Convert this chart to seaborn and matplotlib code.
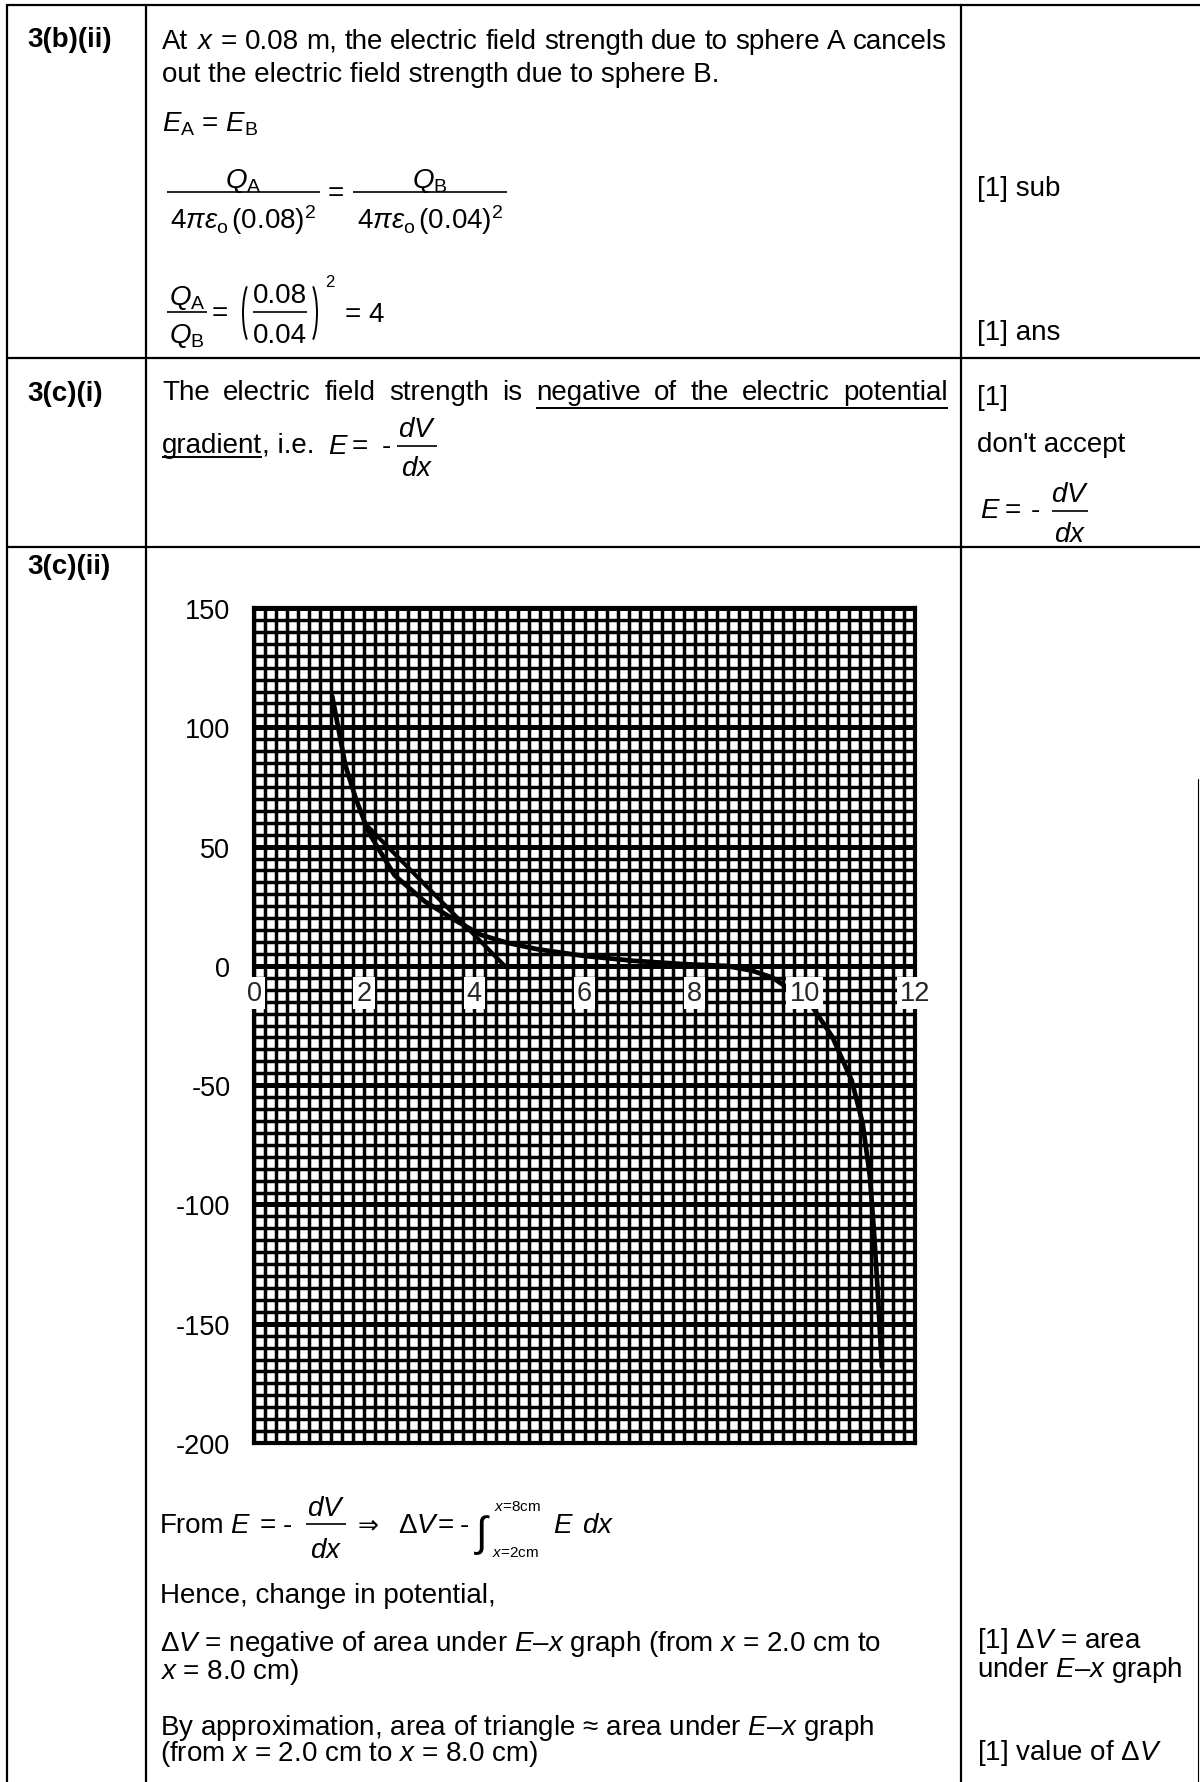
import numpy as np
import pandas as pd
import matplotlib
matplotlib.use("Agg")
import matplotlib.pyplot as plt
from matplotlib.ticker import MultipleLocator, FixedLocator
from matplotlib.patches import Arc
from matplotlib.font_manager import FontProperties
import matplotlib.transforms as mtransforms
import seaborn as sns

# ---------------- data ----------------
curve_x = [1.42, 1.66, 1.85, 2.08, 2.55, 3.10, 3.66, 4.12, 4.59, 5.14, 5.98, 6.90,
           7.83, 8.57, 9.04, 9.41, 9.70, 10.15, 10.50, 10.85, 11.05, 11.18, 11.26,
           11.32, 11.36, 11.40]
curve_y = [113, 84, 70, 56, 38, 27, 19, 13, 9.7, 7.0, 4.2, 2.1,
           0.7, 0.0, -2.0, -4.9, -9.4, -17.6, -29.8, -48, -66, -88, -113,
           -135, -152, -168]
hyp_x = [2.0, 4.55]          # triangle hypotenuse
hyp_y = [60, 0]
side_x = [2.0, 2.0]          # triangle vertical side
side_y = [0, 60]
x_ticks = [0, 2, 4, 6, 8, 10, 12]
y_ticks = [150, 100, 50, 0, -50, -100, -150, -200]
x_range = (0, 12)
y_range = (-200, 150)

# ---------------- style ----------------
sns.set_style("white")
plt.rcParams['font.family'] = ['Liberation Sans', 'DejaVu Sans']
plt.rcParams['mathtext.fontset'] = 'custom'
plt.rcParams['mathtext.rm'] = 'Liberation Sans'
plt.rcParams['mathtext.it'] = 'Liberation Sans:italic'
plt.rcParams['mathtext.bf'] = 'Liberation Sans:bold'
plt.rcParams['axes.unicode_minus'] = False

W, H = 1200, 1783
FS = 20
TFS = 19.5
fig = plt.figure(figsize=(W / 100, H / 100), dpi=100, facecolor='white')
bg = fig.add_axes([0, 0, 1, 1])
bg.set_xlim(0, W)
bg.set_ylim(H, 0)
bg.axis('off')
renderer = fig.canvas.get_renderer()


def txt(x, y, s, size=FS, ha='left', va='baseline', **kw):
    return bg.text(x, y, s, fontsize=size, ha=ha, va=va, color='black', **kw)


def hline(x0, x1, y, lw=1.2):
    bg.plot([x0, x1], [y, y], color='black', lw=lw, solid_capstyle='butt')


def width_of(a):
    return a.get_window_extent(renderer).width


def justify(words, x0, x1, y, size=FS):
    arts = [txt(x0, y, w, size) for w in words]
    ws = [width_of(a) for a in arts]
    gap = (x1 - x0 - sum(ws)) / (len(words) - 1)
    x = x0
    pos = []
    for a, w in zip(arts, ws):
        a.set_x(x)
        pos.append((x, x + w))
        x += w + gap
    return pos


def para(x, base1, lines, spacing, size=FS):
    """Two-line text: first baseline at base1, baselines `spacing` px apart."""
    fp = FontProperties(family=plt.rcParams['font.family'], size=size)
    _, lp_h, lp_d = renderer.get_text_width_height_descent("lp", fp, ismath=False)

    def metrics(s):
        ism = s.count('$') >= 2
        _, h, d = renderer.get_text_width_height_descent(s, fp, ismath=ism)
        return max(h, lp_h), max(d, lp_d)

    h0, d0 = metrics(lines[0])
    h1, d1 = metrics(lines[1])
    m = max(lp_h - lp_d, h1 - d1)
    ls = max(0.1, (spacing - d0) / m)
    top = base1 - (h0 - d0)
    return txt(x, top, "\n".join(lines), size, va='top', linespacing=ls)


def frac(xc, ybar, num, den, x0, x1, nb, db, size=FS):
    hline(x0, x1, ybar)
    txt(xc, nb, num, size, ha='center')
    txt(xc, db, den, size, ha='center')


# ---------------- table borders ----------------
LW = 1.6
for yb in (6, 359, 548):
    bg.plot([7, W], [yb, yb], color='black', lw=LW)
for xb in (7, 146, 961):
    bg.plot([xb, xb], [6, H], color='black', lw=LW)
bg.plot([1198, 1198], [780, H], color='black', lw=0.8)

# ---------------- row 1 ----------------
txt(27, 47, "3(b)(ii)", weight='bold')
justify(["At", "$x$", "=", "0.08", "m,", "the", "electric", "field", "strength",
         "due", "to", "sphere", "A", "cancels"], 162, 947, 49)
txt(162, 82, "out the electric field strength due to sphere B.")
txt(162, 132, r"$E_{\rm A}$ = $E_{\rm B}$")

frac(243, 193, r"$Q_{\rm A}$", r"$4\pi\varepsilon_{\rm o}\,(0.08)^2$", 167, 320, 188, 229)
txt(336, 201, "=", ha='center')
frac(430, 193, r"$Q_{\rm B}$", r"$4\pi\varepsilon_{\rm o}\,(0.04)^2$", 353, 507, 188, 229)
txt(977, 196, "[1] sub")

frac(187, 313, r"$Q_{\rm A}$", r"$Q_{\rm B}$", 167, 207, 305, 343)
txt(220, 321, "=", ha='center')
bg.add_patch(Arc((254, 314), 22, 70, theta1=105, theta2=255, color='black', lw=1.4))
bg.add_patch(Arc((306, 314), 22, 70, theta1=-75, theta2=75, color='black', lw=1.4))
frac(280, 313, "0.08", "0.04", 253, 307, 303, 343)
txt(325, 287, "2", size=12)
txt(345, 322, "= 4")
txt(977, 340, "[1] ans")

# ---------------- row 2 ----------------
txt(27, 401, "3(c)(i)", weight='bold')
pos = justify(["The", "electric", "field", "strength", "is", "negative", "of", "the",
               "electric", "potential"], 162, 948, 400)
hline(pos[5][0], pos[9][1], 409, lw=1.4)
g = txt(162, 453, "gradient")
gw = width_of(g)
hline(162, 162 + gw, 458, lw=1.4)
txt(162 + gw, 453, ", i.e.")
txt(328, 454, "$E$")
txt(352, 454, "=")
txt(382, 454, "-")
frac(417, 447, "$dV$", "$dx$", 397, 437, 437, 476)

txt(977, 405, "[1]")
txt(977, 452, "don't accept")
txt(980, 518, "$E$")
txt(1005, 518, "=")
txt(1031, 518, "-")
frac(1070, 512, "$dV$", "$dx$", 1052, 1088, 502, 542)

# ---------------- row 3 ----------------
txt(27, 574, "3(c)(ii)", weight='bold')

txt(160, 1533, "From")
txt(230, 1533, "$E$")
txt(260, 1533, "=")
txt(283, 1533, "-")
frac(326, 1525, "$dV$", "$dx$", 306, 346, 1516, 1558)
txt(358, 1532, "\u21D2", family=['DejaVu Sans'], size=18)
txt(398, 1533, "\u0394$V$")
txt(438, 1533, "=")
txt(460, 1533, "-")
txt(476, 1546, "\u222B", size=30)
txt(494, 1511, "$x$=8cm", size=11)
txt(492, 1557, "$x$=2cm", size=11)
txt(553, 1533, "$E$")
txt(582, 1533, "$dx$")

txt(160, 1603, "Hence, change in potential,")
para(160, 1651, ["\u0394$V$ = negative of area under $E$\u2013$x$ graph (from $x$ = 2.0 cm to",
                 "$x$ = 8.0 cm)"], 28)
para(160, 1735, ["By approximation, area of triangle \u2248 area under $E$\u2013$x$ graph",
                 "(from $x$ = 2.0 cm to $x$ = 8.0 cm)"], 26)

para(977, 1648, ["[1] \u0394$V$ = area", "under $E$\u2013$x$ graph"], 29)
txt(977, 1760, "[1] value of \u0394$V$")

# ---------------- chart ----------------
ax = fig.add_axes([254 / W, 1 - 1444 / H, 661 / W, 835 / H])
ax.set_facecolor('white')
curve = pd.DataFrame({'x': curve_x, 'y': curve_y})
sns.lineplot(data=curve, x='x', y='y', sort=False, estimator=None,
             color='black', lw=3.4, ax=ax, zorder=3)
sns.lineplot(x=hyp_x, y=hyp_y, sort=False, estimator=None,
             color='black', lw=3.0, ax=ax, zorder=3)
ax.plot(side_x, side_y, color='black', lw=1.6, zorder=3)

ax.set_xlim(*x_range)
ax.set_ylim(*y_range)
ax.xaxis.set_major_locator(FixedLocator(x_ticks))
ax.xaxis.set_minor_locator(MultipleLocator(0.2))
ax.yaxis.set_major_locator(FixedLocator(y_ticks))
ax.yaxis.set_minor_locator(MultipleLocator(5))
ax.set_axisbelow(True)
ax.grid(which='minor', color='black', lw=2.5)
ax.grid(which='major', axis='x', color='black', lw=2.5)
ax.grid(which='major', axis='y', color='black', lw=3.6)
ax.tick_params(axis='x', which='both', length=0, labelbottom=False)
ax.tick_params(axis='y', which='major', direction='out', length=5, width=2,
               pad=12, labelsize=TFS, colors='black')
ax.tick_params(axis='y', which='minor', length=0)
ax.set_xlabel('')
ax.set_ylabel('')
for s in ax.spines.values():
    s.set_visible(True)
    s.set_linewidth(3)
    s.set_color('black')
ax.axhline(0, color='black', lw=3.6, zorder=1)

off = mtransforms.offset_copy(ax.transData, fig=fig, x=0, y=-27, units='dots')
for t in x_ticks:
    ax.text(t, 0, str(t), transform=off, ha='center', va='center', fontsize=TFS,
            zorder=6, clip_on=False,
            bbox=dict(boxstyle='square,pad=0.12', fc='white', ec='none'))

fig.savefig("out.png", dpi=100, facecolor='white')
